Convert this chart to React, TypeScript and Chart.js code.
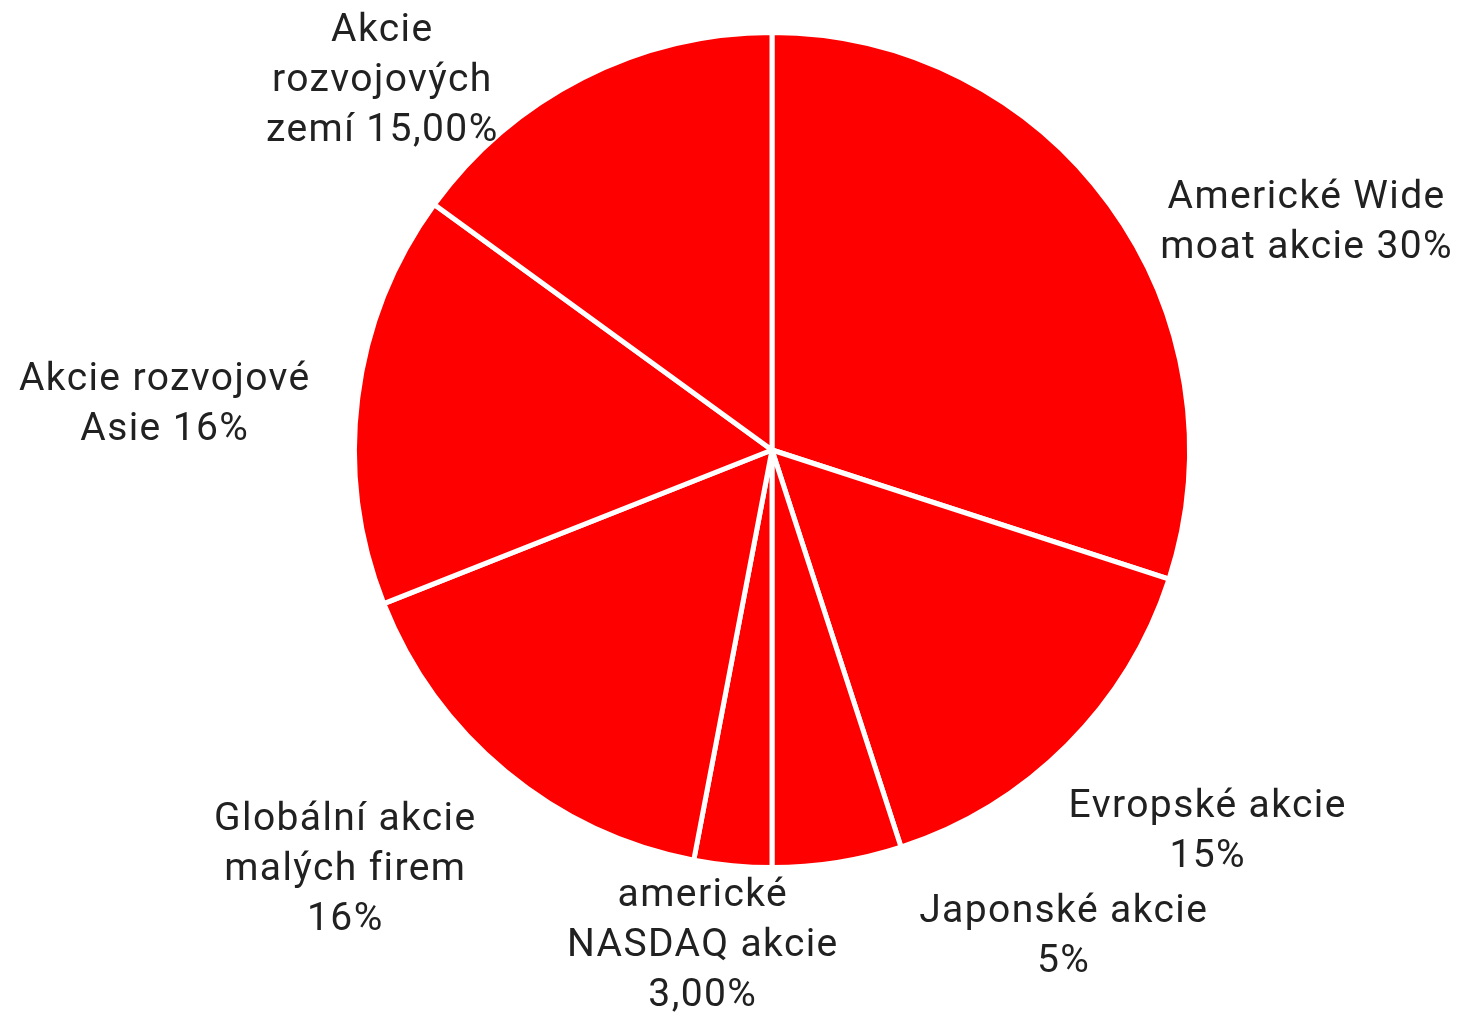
import React, { useEffect, useRef } from "react";
import { Chart, registerables } from "chart.js";

Chart.register(...registerables);

const categories = [
  "Americké Wide moat akcie",
  "Evropské akcie",
  "Japonské akcie",
  "americké NASDAQ akcie",
  "Globální akcie malých firem",
  "Akcie rozvojové Asie",
  "Akcie rozvojových zemí",
];
const values = [30, 15, 5, 3, 16, 16, 15];
const labelTexts = [
  ["Americké Wide", "moat akcie 30%"],
  ["Evropské akcie", "15%"],
  ["Japonské akcie", "5%"],
  ["americké", "NASDAQ akcie", "3,00%"],
  ["Globální akcie", "malých firem", "16%"],
  ["Akcie rozvojové", "Asie 16%"],
  ["Akcie", "rozvojových", "zemí 15,00%"],
];

// label placement: angle shift (deg) from slice mid-angle, distance as factor of radius
const labelLayout = [
  { shift: 12.7, k: 1.4 },
  { shift: -3.9, k: 1.39 },
  { shift: -22, k: 1.36 },
  { shift: 2.7, k: 1.2 },
  { shift: 6.1, k: 1.44 },
  { shift: -2.7, k: 1.47 },
  { shift: -19.4, k: 1.3 },
];

const outsideLabels = {
  id: "outsideLabels",
  afterDraw(chart: any) {
    const ctx = chart.ctx;
    const meta = chart.getDatasetMeta(0);
    ctx.save();
    ctx.font = "39px Roboto";
    (ctx as any).letterSpacing = "1.4px";
    ctx.fillStyle = "#212121";
    ctx.textAlign = "center";
    ctx.textBaseline = "middle";
    const lineH = 50;
    meta.data.forEach((arc: any, i: number) => {
      const { x, y, startAngle, endAngle } = arc.getProps(
        ["x", "y", "startAngle", "endAngle"],
        true
      );
      const r = 415;
      const lay = labelLayout[i];
      const mid = (startAngle + endAngle) / 2 + (lay.shift * Math.PI) / 180;
      const d = r * lay.k;
      const cx = x + Math.cos(mid) * d;
      const cy = y + Math.sin(mid) * d + 3;
      const lines = labelTexts[i];
      const top = cy - ((lines.length - 1) * lineH) / 2;
      lines.forEach((t, j) => ctx.fillText(t, cx + 1, top + j * lineH));
    });
    ctx.restore();
  },
};

export default function App() {
  const ref = useRef<HTMLCanvasElement>(null);
  useEffect(() => {
    if (!ref.current) return;
    const chart = new Chart(ref.current, {
      type: "pie",
      data: {
        labels: categories,
        datasets: [
          {
            data: values,
            backgroundColor: "#ff0000",
            borderColor: "#ffffff",
            borderWidth: 5,
            hoverOffset: 0,
            offset: 0,
          },
        ],
      },
      options: {
        responsive: false,
        animation: false,
        layout: { padding: { left: 352, right: 268, top: 30, bottom: 149 } },
        plugins: {
          legend: { display: false },
          tooltip: { enabled: false },
        },
      },
      plugins: [outsideLabels],
    });
    return () => chart.destroy();
  }, []);
  return (
    <div style={{ position: "absolute", left: 0, top: 0, width: 1460, height: 1019, background: "#fff" }}>
      <canvas ref={ref} width={1460} height={1019} />
    </div>
  );
}
